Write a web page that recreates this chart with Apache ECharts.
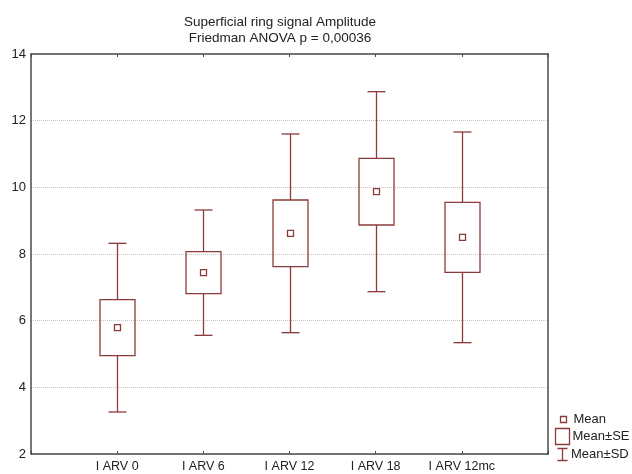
<!DOCTYPE html>
<html>
<head>
<meta charset="utf-8">
<script src="https://cdn.jsdelivr.net/npm/echarts@6/dist/echarts.min.js"></script>
<style>
  html, body { margin: 0; padding: 0; background: #fff; }
  #chart { width: 632px; height: 474px; }
</style>
</head>
<body>
<div id="chart"></div>
<script>
// Groups on the x axis
var categories = ['I ARV 0', 'I ARV 6', 'I ARV 12', 'I ARV 18', 'I ARV 12mc'];
// Mean, standard error and standard deviation per group
var means = [5.79, 7.44, 8.62, 9.87, 8.50];
var stdErrors = [0.84, 0.63, 1.00, 1.00, 1.05];
var stdDevs = [2.53, 1.88, 2.98, 3.00, 3.16];
// Y axis ticks
var yTicks = [2, 4, 6, 8, 10, 12, 14];

var markColor = '#8b3b3b';
var frameColor = '#4a4a4a';
var font = 'Liberation Sans, Arial, sans-serif';

var seriesData = categories.map(function (c, i) {
  return [i + 1, means[i], stdErrors[i], stdDevs[i]];
});

function renderItem(params, api) {
  var x = api.value(0);
  var m = api.value(1);
  var se = api.value(2);
  var sd = api.value(3);
  var pMean = api.coord([x, m]);
  var pSeHi = api.coord([x, m + se]);
  var pSeLo = api.coord([x, m - se]);
  var pSdHi = api.coord([x, m + sd]);
  var pSdLo = api.coord([x, m - sd]);
  var cx = Math.round(pMean[0]) + 0.5;
  var boxHalf = 17.5;
  var capHalf = 9;
  var mk = 3;
  var st = { stroke: markColor, lineWidth: 1.3, fill: null };
  return {
    type: 'group',
    children: [
      { type: 'line', shape: { x1: cx, y1: pSeHi[1], x2: cx, y2: pSdHi[1] }, style: st },
      { type: 'line', shape: { x1: cx, y1: pSeLo[1], x2: cx, y2: pSdLo[1] }, style: st },
      { type: 'line', shape: { x1: cx - capHalf, y1: pSdHi[1], x2: cx + capHalf, y2: pSdHi[1] }, style: st },
      { type: 'line', shape: { x1: cx - capHalf, y1: pSdLo[1], x2: cx + capHalf, y2: pSdLo[1] }, style: st },
      { type: 'rect', shape: { x: cx - boxHalf, y: pSeHi[1], width: boxHalf * 2, height: pSeLo[1] - pSeHi[1] }, style: st },
      { type: 'rect', shape: { x: cx - mk, y: pMean[1] - mk, width: mk * 2, height: mk * 2 }, style: { stroke: markColor, lineWidth: 1.3, fill: '#fff' } }
    ]
  };
}

var chart = echarts.init(document.getElementById('chart'), null, { renderer: 'canvas' });

function legendText(shift) {
  return { fontFamily: font, fontSize: 13, color: '#222', padding: [0, 0, 0, shift] };
}
var iconStyle = { color: 'none', borderColor: markColor, borderWidth: 1.3 };

chart.setOption({
  animation: false,
  backgroundColor: '#fff',
  graphic: [{
    type: 'text',
    x: 280,
    y: 14,
    style: {
      text: 'Superficial ring signal Amplitude\nFriedman ANOVA p = 0,00036',
      align: 'center',
      verticalAlign: 'top',
      font: '13.5px ' + font,
      lineHeight: 16,
      fill: '#222'
    }
  }],
  grid: { left: 31, right: 84, top: 54, bottom: 20, containLabel: false },
  legend: [
    {
      data: [{ name: 'Mean', icon: 'rect', itemStyle: iconStyle }],
      left: 558, top: 413, itemWidth: 6, itemHeight: 6, itemGap: 0, padding: 0,
      textStyle: legendText(2), selectedMode: false
    },
    {
      data: [{ name: 'Mean±SE', icon: 'rect', itemStyle: iconStyle }],
      left: 553, top: 426, itemWidth: 14, itemHeight: 16, itemGap: 0, padding: 0,
      textStyle: legendText(-2), selectedMode: false
    },
    {
      data: [{ name: 'Mean±SD', icon: 'path://M0,0H10M5,0V12M0,12H10', itemStyle: iconStyle }],
      left: 555, top: 446, itemWidth: 11, itemHeight: 12, itemGap: 0, padding: 0,
      textStyle: legendText(-2), selectedMode: false
    }
  ],
  xAxis: [
    {
      type: 'value', min: 0, max: 6, interval: 1, position: 'bottom',
      axisLine: { show: true, onZero: false, lineStyle: { color: frameColor, width: 1.5 } },
      axisTick: { show: true, inside: true, length: 3, lineStyle: { color: frameColor } },
      axisLabel: {
        margin: 6, fontFamily: font, fontSize: 12.5, color: '#222',
        formatter: function (v) { return categories[v - 1] || ''; }
      },
      splitLine: { show: false }
    },
    {
      type: 'value', min: 0, max: 6, interval: 1, position: 'top',
      axisLine: { show: true, onZero: false, lineStyle: { color: frameColor, width: 1.5 } },
      axisTick: { show: true, inside: true, length: 3, lineStyle: { color: frameColor } },
      axisLabel: { show: false },
      splitLine: { show: false }
    }
  ],
  yAxis: [
    {
      type: 'value', min: yTicks[0], max: yTicks[yTicks.length - 1], interval: 2, position: 'left',
      axisLine: { show: true, onZero: false, lineStyle: { color: frameColor, width: 1.5 } },
      axisTick: { show: false },
      axisLabel: { margin: 5, fontFamily: font, fontSize: 13, color: '#222' },
      splitLine: { show: true, lineStyle: { color: '#c4c4c4', type: [1, 1], width: 1 } }
    },
    {
      type: 'value', min: yTicks[0], max: yTicks[yTicks.length - 1], interval: 2, position: 'right',
      axisLine: { show: true, onZero: false, lineStyle: { color: frameColor, width: 1.5 } },
      axisTick: { show: false },
      axisLabel: { show: false },
      splitLine: { show: false }
    }
  ],
  series: [
    {
      name: 'Mean±SD',
      type: 'custom',
      renderItem: renderItem,
      encode: { x: 0, y: 1 },
      data: seriesData,
      itemStyle: { color: markColor },
      z: 3
    },
    { name: 'Mean', type: 'custom', renderItem: function () { return { type: 'group', children: [] }; }, data: [], itemStyle: { color: markColor } },
    { name: 'Mean±SE', type: 'custom', renderItem: function () { return { type: 'group', children: [] }; }, data: [], itemStyle: { color: markColor } }
  ]
});
</script>
</body>
</html>
